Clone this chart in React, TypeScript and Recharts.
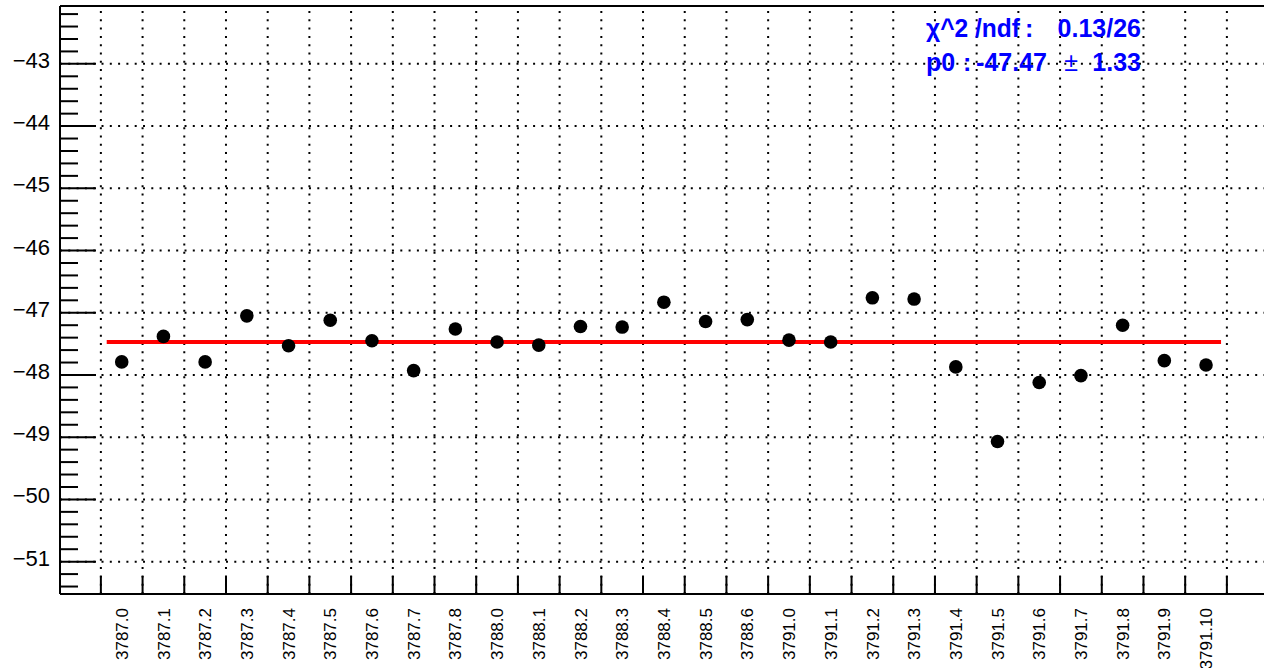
import React from "react";
import {
  ComposedChart,
  XAxis,
  YAxis,
  Scatter,
  Line,
  ReferenceLine,
} from "recharts";

const categories = [
  "3787.0", "3787.1", "3787.2", "3787.3", "3787.4", "3787.5", "3787.6", "3787.7", "3787.8",
  "3788.0", "3788.1", "3788.2", "3788.3", "3788.4", "3788.5", "3788.6",
  "3791.0", "3791.1", "3791.2", "3791.3", "3791.4", "3791.5", "3791.6", "3791.7", "3791.8", "3791.9", "3791.10",
];

const values = [
  -47.79, -47.38, -47.79, -47.05, -47.53, -47.12, -47.45, -47.93, -47.26,
  -47.47, -47.52, -47.22, -47.23, -46.83, -47.14, -47.11,
  -47.44, -47.47, -46.76, -46.78, -47.87, -49.07, -48.12, -48.01, -47.2, -47.77, -47.84,
];

// pol0 fit result
const fitP0 = -47.47;
const fitFrom = -0.36;
const fitTo = 26.36;

const yMajor = [-51, -50, -49, -48, -47, -46, -45, -44, -43];
const xDomain = [-1.48, 27.39];
const yDomain = [-51.52, -42.07];

const points = categories.map((c, i) => ({ x: i, y: values[i] }));
const fitData = [
  { x: fitFrom, y: fitP0 },
  { x: fitTo, y: fitP0 },
];

// bin edges get tick marks + grid, bin centers get labels
const edges = [...categories.map((_, i) => i - 0.5), categories.length - 0.5];
const xTicks = [...edges, ...categories.map((_, i) => i)].sort((a, b) => a - b);

const yTicks: number[] = [];
for (let k = -257; k <= -211; k++) yTicks.push(Math.round(k * 2) / 10);

const FONT = "'Liberation Sans', Arial, Helvetica, sans-serif";

const XTick = (props: any) => {
  const { x, y, payload } = props;
  const v = payload.value;
  if (!Number.isInteger(v)) {
    return <line x1={x} y1={y} x2={x} y2={y - 18} stroke="#000" strokeWidth={2} />;
  }
  return (
    <text
      x={x}
      y={y + 14}
      transform={`rotate(-90, ${x}, ${y + 14})`}
      textAnchor="end"
      dy="0.36em"
      fontSize={17}
      fontFamily={FONT}
      fill="#000"
    >
      {categories[v]}
    </text>
  );
};

const YTick = (props: any) => {
  const { x, y, payload } = props;
  const v = payload.value;
  const major = Math.abs(v - Math.round(v)) < 1e-6;
  return (
    <g>
      <line x1={x} y1={y} x2={x + (major ? 36 : 18)} y2={y} stroke="#000" strokeWidth={2} />
      {major && (
        <text x={x - 10} y={y + 4} textAnchor="end" fontSize={22} fontFamily={FONT} fill="#000">
          {"\u2212" + Math.abs(v)}
        </text>
      )}
    </g>
  );
};

export default function App() {
  return (
    <div style={{ position: "absolute", left: 0, top: 0, width: 1264, height: 668, background: "#fff" }}>
      <ComposedChart width={1264} height={668} margin={{ top: 5, right: 0, bottom: 72, left: 0 }}>
        <XAxis
          xAxisId="main"
          type="number"
          dataKey="x"
          domain={xDomain}
          ticks={xTicks}
          interval={0}
          allowDataOverflow
          height={2}
          tickSize={0}
          tickMargin={0}
          tickLine={false}
          tick={<XTick />}
          axisLine={{ stroke: "#000", strokeWidth: 2 }}
        />
        <XAxis
          xAxisId="top"
          orientation="top"
          type="number"
          domain={xDomain}
          ticks={[0]}
          allowDataOverflow
          height={1}
          tick={false}
          tickLine={false}
          axisLine={{ stroke: "#000", strokeWidth: 2 }}
        />
        <YAxis
          type="number"
          dataKey="y"
          domain={yDomain}
          ticks={yTicks}
          interval={0}
          allowDataOverflow
          width={60}
          tickSize={0}
          tickMargin={0}
          tickLine={false}
          tick={<YTick />}
          axisLine={{ stroke: "#000", strokeWidth: 2 }}
        />
        {edges.map((e) => (
          <ReferenceLine
            key={"v" + e}
            xAxisId="main"
            x={e}
            stroke="#000"
            strokeWidth={2}
            strokeDasharray="2 6.3"
          />
        ))}
        {yMajor.map((v) => (
          <ReferenceLine
            key={"h" + v}
            xAxisId="main"
            y={v}
            stroke="#000"
            strokeWidth={2}
            strokeDasharray="2 6.3"
          />
        ))}
        <Line
          xAxisId="main"
          data={fitData}
          dataKey="y"
          type="linear"
          stroke="#ff0000"
          strokeWidth={4}
          dot={false}
          activeDot={false}
          isAnimationActive={false}
        />
        <Scatter
          xAxisId="main"
          data={points}
          isAnimationActive={false}
          shape={(p: any) => <circle cx={p.cx} cy={p.cy} r={6.8} fill="#000" />}
        />
      </ComposedChart>
      <svg
        width={1264}
        height={668}
        style={{ position: "absolute", left: 0, top: 0, pointerEvents: "none" }}
        fontFamily={FONT}
        fill="#0000ff"
        fontSize={25}
      >
        <text x={926} y={37} fontWeight="bold" textLength={94} lengthAdjust="spacingAndGlyphs">
          χ^2 /ndf
        </text>
        <text x={1025} y={37} fontWeight="bold">
          :
        </text>
        <text x={1141} y={37} fontWeight="bold" textAnchor="end">
          0.13/26
        </text>
        <text x={926} y={71} fontWeight="bold">
          p0
        </text>
        <text x={963} y={71} fontWeight="bold">
          :
        </text>
        <text x={1047} y={71} fontWeight="bold" textAnchor="end">
          -47.47
        </text>
        <text x={1071} y={71} textAnchor="middle">
          ±
        </text>
        <text x={1141} y={71} fontWeight="bold" textAnchor="end">
          1.33
        </text>
      </svg>
    </div>
  );
}
